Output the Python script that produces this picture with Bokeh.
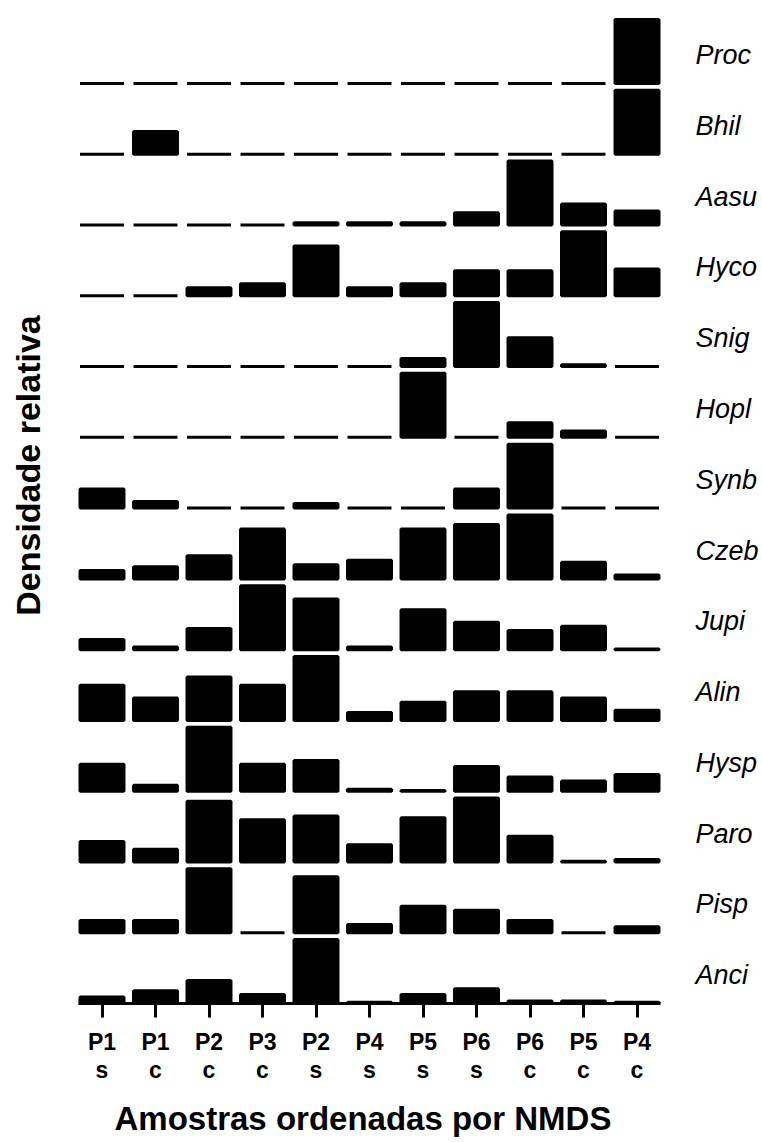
import numpy as np
from bokeh.plotting import figure
from bokeh.models import ColumnDataSource, FixedTicker, Range1d, Title
from bokeh.core.properties import value
from bokeh.embed import file_html
from bokeh.resources import INLINE

# ---------------- data ----------------
sites = ["P1", "P1", "P2", "P3", "P2", "P4", "P5", "P6", "P6", "P5", "P4"]
kinds = ["s", "c", "c", "c", "s", "s", "s", "s", "c", "c", "c"]

taxa = ["Proc", "Bhil", "Aasu", "Hyco", "Snig", "Hopl", "Synb",
        "Czeb", "Jupi", "Alin", "Hysp", "Paro", "Pisp", "Anci"]

# relative density (row maximum = 1)
proc = [0, 0, 0, 0, 0, 0, 0, 0, 0, 0, 1.0]
bhil = [0, 0.355, 0, 0, 0, 0, 0, 0, 0, 0, 1.0]
aasu = [0, 0, 0, 0, 0.036, 0.036, 0.036, 0.19, 1.0, 0.33, 0.22]
hyco = [0.0, 0.0, 0.125, 0.19, 0.78, 0.125, 0.19, 0.39, 0.39, 1.0, 0.42]
snig = [0, 0, 0, 0, 0, 0, 0.125, 1.0, 0.45, 0.027, 0]
hopl = [0, 0, 0, 0, 0, 0, 1.0, 0, 0.23, 0.10, 0]
synb = [0.30, 0.105, 0, 0, 0.073, 0, 0, 0.30, 1.0, 0, 0]
czeb = [0.13, 0.19, 0.36, 0.78, 0.22, 0.29, 0.78, 0.85, 1.0, 0.26, 0.06]
jupi = [0.16, 0.04, 0.33, 1.0, 0.79, 0.04, 0.625, 0.43, 0.30, 0.365, 0.01]
alin = [0.55, 0.35, 0.68, 0.55, 1.0, 0.125, 0.285, 0.45, 0.45, 0.35, 0.16]
hysp = [0.42, 0.094, 1.0, 0.42, 0.48, 0.03, 0.01, 0.385, 0.22, 0.16, 0.26]
paro = [0.32, 0.20, 0.95, 0.66, 0.72, 0.27, 0.69, 1.0, 0.40, 0.01, 0.04]
pisp = [0.19, 0.19, 1.0, 0, 0.875, 0.13, 0.415, 0.35, 0.19, 0, 0.094]
anci = [0.10, 0.20, 0.36, 0.14, 1.0, 0.02, 0.14, 0.23, 0.04, 0.04, 0.02]

rows = [proc, bhil, aasu, hyco, snig, hopl, synb, czeb, jupi, alin, hysp, paro, pisp, anci]

# ---------------- layout constants ----------------
FONT = "Liberation Sans"
PX_X = 53.5          # pixels per column
PX_Y = 70.77         # pixels per row
FRAME_W = 762
FRAME_H = 1003
BOTTOM = 139
X0_PX = 101.5        # pixel position of first column centre
BAR_W = 0.822
BAR_SCALE = 0.904    # height of a full bar, in row units

n_rows = len(taxa)
n_cols = len(sites)

xs, bottoms, tops = [], [], []
for i, vals in enumerate(rows):
    base = (n_rows - 1) - i
    for j, v in enumerate(vals):
        xs.append(j)
        bottoms.append(base)
        tops.append(base + v * BAR_SCALE)

src = ColumnDataSource(dict(x=xs, bottom=bottoms, top=tops))

x_start = -X0_PX / PX_X
p = figure(
    frame_width=FRAME_W, frame_height=FRAME_H,
    x_range=Range1d(x_start, x_start + FRAME_W / PX_X),
    y_range=Range1d(0, FRAME_H / PX_Y),
    output_backend="svg", toolbar_location=None,
    y_axis_location=None, title=None,
    min_border_left=0, min_border_right=0, min_border_top=0, min_border_bottom=BOTTOM,
    background_fill_color="white", border_fill_color="white",
)
p.outline_line_color = None
p.xgrid.visible = False
p.ygrid.visible = False

p.vbar(x="x", width=BAR_W, bottom="bottom", top="top", source=src,
       fill_color="black", line_color="black", line_width=3)

# taxon labels on the right
p.text(x=[(695 - X0_PX) / PX_X] * n_rows,
       y=[(n_rows - 1) - i + 0.40 for i in range(n_rows)],
       text=taxa, text_font=value(FONT), text_font_style="italic",
       text_font_size="27px", text_color="black",
       text_align="left", text_baseline="alphabetic")

# y axis title
p.text(x=[(27.5 - X0_PX) / PX_X], y=[(FRAME_H - 465) / PX_Y],
       text=["Densidade relativa"], angle=np.pi / 2,
       text_font=value(FONT), text_font_style="bold", text_font_size="34px",
       text_color="black", text_align="center", text_baseline="middle")

# x axis
ax = p.xaxis[0]
ax.ticker = FixedTicker(ticks=list(range(n_cols)))
ax.major_label_overrides = {j: f"{sites[j]}\n{kinds[j]}" for j in range(n_cols)}
ax.bounds = (-0.44, n_cols - 1 + 0.44)
ax.axis_line_width = 3
ax.axis_line_color = "black"
ax.major_tick_line_width = 3
ax.major_tick_line_color = "black"
ax.major_tick_in = 0
ax.major_tick_out = 14
ax.minor_tick_line_color = None
ax.major_label_standoff = 11
ax.major_label_text_font = FONT
ax.major_label_text_font_style = "bold"
ax.major_label_text_font_size = "23px"
ax.major_label_text_color = "black"
ax.major_label_text_line_height = 1.1

p.add_layout(Title(text="Amostras ordenadas por NMDS", align="left", offset=114,
                   text_font=FONT, text_font_style="bold", text_font_size="33px",
                   text_color="black", standoff=22), "below")

open("out.html", "w").write(file_html(p, INLINE))
